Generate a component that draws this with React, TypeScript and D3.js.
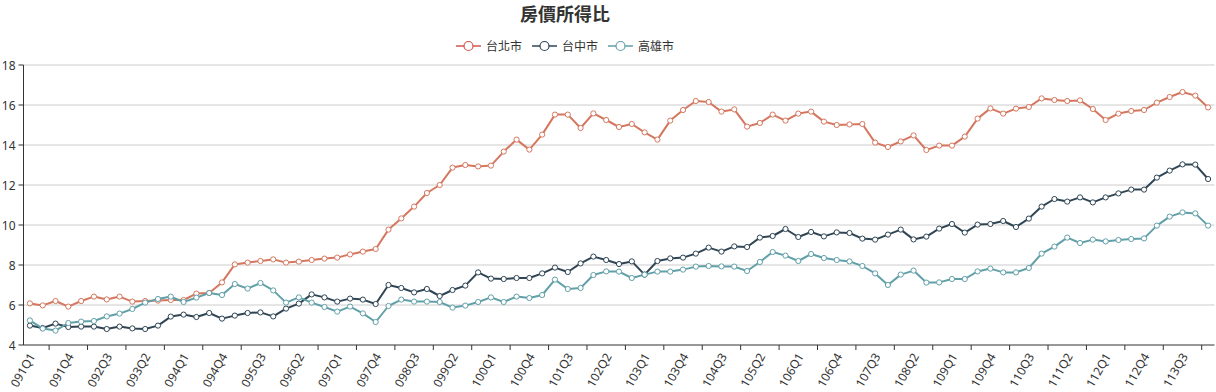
import React from "react";
import * as d3 from "d3";

// quarters 091Q1 .. 114Q1
const years = d3.range(91, 115).map((y) => String(y).padStart(3, "0"));
const quarters = ["Q1", "Q2", "Q3", "Q4"];
const categories: string[] = years
  .flatMap((y) => quarters.map((q) => y + q))
  .slice(0, 93);

const seriesNames = ["台北市", "台中市", "高雄市"];

const taipei = [
  6.08, 5.98, 6.2, 5.92, 6.2, 6.42, 6.28, 6.42, 6.17, 6.2, 6.22, 6.25, 6.25, 6.57, 6.6, 7.13,
  8.03, 8.12, 8.2, 8.28, 8.12, 8.17, 8.25, 8.32, 8.37, 8.53, 8.67, 8.8, 9.77, 10.33, 10.92, 11.6,
  12.0, 12.87, 13.0, 12.93, 12.97, 13.67, 14.27, 13.77, 14.52, 15.52, 15.52, 14.85, 15.58, 15.25,
  14.9, 15.05, 14.63, 14.27, 15.22, 15.75, 16.2, 16.15, 15.67, 15.78, 14.92, 15.1, 15.52, 15.22,
  15.57, 15.67, 15.17, 15.0, 15.03, 15.05, 14.12, 13.9, 14.18, 14.48, 13.75, 13.97, 13.97, 14.42,
  15.32, 15.83, 15.57, 15.82, 15.9, 16.33, 16.25, 16.2, 16.23, 15.8, 15.25, 15.57, 15.7, 15.75,
  16.12, 16.4, 16.65, 16.47, 15.88,
];

const taichung = [
  4.97, 4.85, 5.07, 4.9, 4.92, 4.92, 4.8, 4.92, 4.83, 4.8, 4.97, 5.42, 5.52, 5.4, 5.6, 5.32,
  5.47, 5.6, 5.63, 5.43, 5.82, 6.07, 6.53, 6.38, 6.17, 6.32, 6.27, 6.05, 7.0, 6.85, 6.63, 6.8,
  6.45, 6.75, 6.97, 7.63, 7.32, 7.3, 7.35, 7.35, 7.58, 7.87, 7.65, 8.08, 8.42, 8.25, 8.05, 8.18,
  7.52, 8.2, 8.33, 8.37, 8.57, 8.87, 8.67, 8.93, 8.9, 9.37, 9.45, 9.8, 9.4, 9.65, 9.43, 9.63,
  9.6, 9.32, 9.27, 9.52, 9.77, 9.28, 9.42, 9.82, 10.05, 9.62, 10.02, 10.05, 10.2, 9.9, 10.32,
  10.92, 11.3, 11.17, 11.38, 11.13, 11.38, 11.58, 11.77, 11.77, 12.37, 12.72, 13.03, 13.02, 12.3,
];

const kaohsiung = [
  5.23, 4.82, 4.72, 5.1, 5.17, 5.2, 5.43, 5.57, 5.8, 6.12, 6.3, 6.42, 6.15, 6.37, 6.6, 6.5,
  7.05, 6.82, 7.1, 6.73, 6.12, 6.38, 6.12, 5.9, 5.67, 5.92, 5.58, 5.15, 5.95, 6.27, 6.17, 6.17,
  6.15, 5.87, 5.97, 6.15, 6.38, 6.15, 6.42, 6.35, 6.5, 7.27, 6.8, 6.85, 7.5, 7.68, 7.67, 7.35,
  7.52, 7.67, 7.67, 7.77, 7.92, 7.95, 7.93, 7.92, 7.7, 8.15, 8.65, 8.47, 8.2, 8.55, 8.35, 8.25,
  8.18, 7.95, 7.58, 7.0, 7.52, 7.72, 7.12, 7.13, 7.3, 7.3, 7.68, 7.82, 7.63, 7.63, 7.85, 8.57,
  8.92, 9.37, 9.1, 9.27, 9.18, 9.25, 9.3, 9.33, 9.97, 10.42, 10.63, 10.58, 9.97,
];

const yTicks = [4, 6, 8, 10, 12, 14, 16, 18];

const lineColors = ["#d5775f", "#2f4554", "#61a0a8"];
const legendColors = ["#d5534e", "#2f4554", "#61a0a8"];

const W = 1216;
const H = 392;
const font = "'Noto Sans', 'Noto Sans CJK TC', sans-serif";

const App = () => {
  const left = 23.5;
  const right = 1214.5;
  const top = 65;
  const bottom = 345;

  const x = d3.scaleBand<string>().domain(categories).range([left, right]).padding(0);
  const bw = x.bandwidth();
  const cx = (c: string) => (x(c) as number) + bw / 2;
  const y = d3.scaleLinear().domain([4, 18]).range([bottom, top]);

  const allSeries = [taipei, taichung, kaohsiung];
  const line = d3
    .line<number>()
    .x((_d, i) => cx(categories[i]))
    .y((d) => y(d));

  const labelCats = categories.filter((_c, i) => i % 3 === 0);
  const tickCats = categories.filter((_c, i) => i % 3 === 2);

  // legend layout
  const legendWidths = [25 + 5 + 36, 25 + 5 + 36, 25 + 5 + 36];
  const gap = 10;
  const legendTotal = d3.sum(legendWidths) + gap * (legendWidths.length - 1);
  const legendCenter = 565;
  let lx = legendCenter - legendTotal / 2;
  const legendX = legendWidths.map((w) => {
    const v = lx;
    lx += w + gap;
    return v;
  });

  return (
    <svg
      width={W}
      height={H}
      style={{ position: "absolute", left: 0, top: 0, fontFamily: font }}
    >
      <rect width={W} height={H} fill="#fff" />
      <text
        x={legendCenter}
        y={14}
        textAnchor="middle"
        dominantBaseline="central"
        fontSize={18}
        fontWeight="bold"
        fill="#333"
      >
        房價所得比
      </text>

      {/* legend */}
      {seriesNames.map((name, i) => (
        <g key={name} transform={`translate(${legendX[i]},46)`}>
          <line x1={0} x2={25} y1={0} y2={0} stroke={legendColors[i]} strokeWidth={1.5} />
          <circle cx={12.5} cy={0} r={4.5} fill="#fff" stroke={legendColors[i]} strokeWidth={1.2} />
          <text x={30} y={0} dominantBaseline="central" fontSize={12} fill="#333">
            {name}
          </text>
        </g>
      ))}

      {/* grid */}
      {yTicks.map((t) => (
        <g key={t}>
          {t !== 4 && (
            <line x1={left} x2={right} y1={y(t)} y2={y(t)} stroke="#ccc" strokeWidth={1} />
          )}
          <line x1={left - 5} x2={left} y1={y(t)} y2={y(t)} stroke="#333" strokeWidth={1} />
          <text
            x={left - 8}
            y={y(t)}
            textAnchor="end"
            dominantBaseline="central"
            fontSize={12}
            fill="#333"
          >
            {t}
          </text>
        </g>
      ))}

      {/* axes */}
      <line x1={left} x2={left} y1={top} y2={bottom} stroke="#333" strokeWidth={1} />
      <line x1={left} x2={right} y1={bottom} y2={bottom} stroke="#333" strokeWidth={1} />
      {tickCats.map((c) => (
        <line
          key={c}
          x1={x(c) as number}
          x2={x(c) as number}
          y1={bottom}
          y2={bottom + 5}
          stroke="#333"
          strokeWidth={1}
        />
      ))}
      {labelCats.map((c) => (
        <text
          key={c}
          transform={`translate(${cx(c) + 2},${bottom + 9}) rotate(-60)`}
          textAnchor="end"
          dominantBaseline="central"
          fontSize={12}
          fill="#333"
        >
          {c}
        </text>
      ))}

      {/* series */}
      {allSeries.map((s, si) => (
        <g key={si}>
          <path
            d={line(s) || ""}
            fill="none"
            stroke={lineColors[si]}
            strokeWidth={2}
            strokeLinejoin="round"
          />
          {s.map((v, i) => (
            <circle
              key={i}
              cx={cx(categories[i])}
              cy={y(v)}
              r={2.6}
              fill="#fff"
              stroke={lineColors[si]}
              strokeWidth={1}
            />
          ))}
        </g>
      ))}
    </svg>
  );
};

export default App;
